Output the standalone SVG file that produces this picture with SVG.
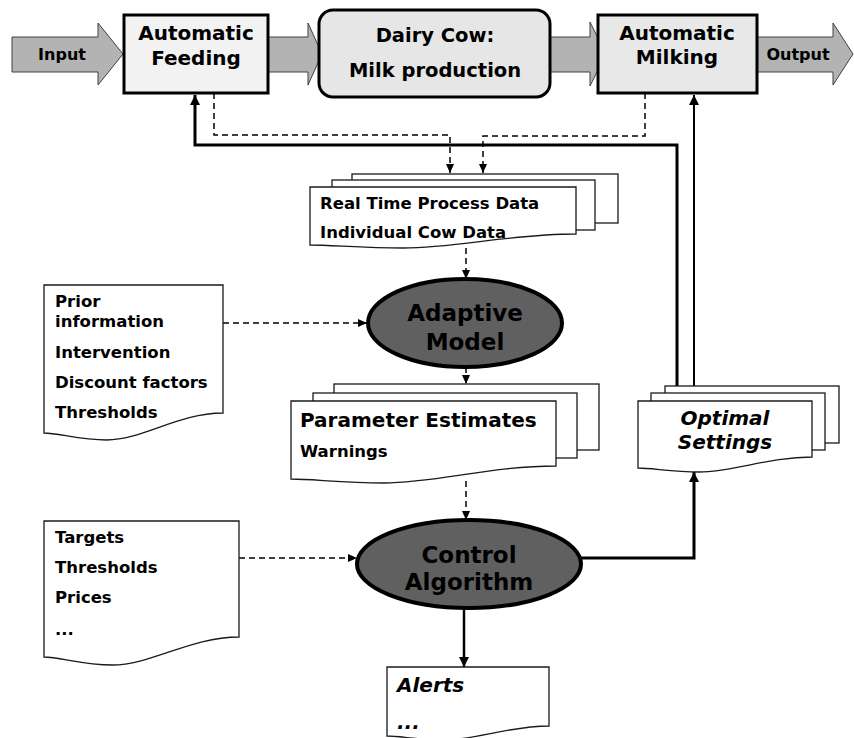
<svg xmlns="http://www.w3.org/2000/svg" width="854" height="738" viewBox="0 0 854 738">
<defs>
<style>
text{font-family:"DejaVu Sans","Verdana",sans-serif;font-weight:bold;fill:#000}
.big{font-size:20px}
.sm{font-size:16.5px}
.arw{font-size:16px}
.ell{font-size:23px}
.it{font-style:italic}
.mid{text-anchor:middle}
.fat{fill:#b3b3b3;stroke:#404040;stroke-width:1}
.box{stroke:#000;stroke-width:3}
.doc{fill:#fff;stroke:#1a1a1a;stroke-width:1.3}
.oval{fill:#606060;stroke:#000;stroke-width:4}
.dash{fill:none;stroke:#000;stroke-width:1.5;stroke-dasharray:6 4}
.solid{fill:none;stroke:#000}
</style>
<marker id="ah" markerUnits="userSpaceOnUse" markerWidth="9" markerHeight="8" refX="9" refY="4" orient="auto"><path d="M0,0 L9,4 L0,8 Z" fill="#000"/></marker>
<marker id="ahb" markerUnits="userSpaceOnUse" markerWidth="10" markerHeight="10" refX="10" refY="5" orient="auto"><path d="M0,0 L10,5 L0,10 Z" fill="#000"/></marker>
</defs>
<rect width="854" height="738" fill="#fff"/>

<g id="connectors">
<polygon class="fat" points="268,37 308,37 308,23 322,54 308,85 308,72 268,72"/>
<polygon class="fat" points="548,37 590,37 590,22 606,54 590,86 590,72 548,72"/>
<path class="dash" d="M214,93 V135 H450 V173" marker-end="url(#ah)"/>
<path class="dash" d="M645,93 V136 H483 V173" marker-end="url(#ah)"/>
<path class="solid" stroke-width="3" d="M677,386 V145 H195 V95" marker-end="url(#ahb)"/>
<path class="solid" stroke-width="2" d="M694,386 V95" marker-end="url(#ahb)"/>
<path class="dash" d="M466,248 V279" marker-end="url(#ah)"/>
<path class="dash" d="M223,323 H367" marker-end="url(#ah)"/>
<path class="dash" d="M466,367 V384" marker-end="url(#ah)"/>
<path class="dash" d="M466,481 V520" marker-end="url(#ah)"/>
<path class="dash" d="M239,558 H357" marker-end="url(#ah)"/>
<path class="solid" stroke-width="3" d="M581,558 H694 V472" marker-end="url(#ahb)"/>
<path class="solid" stroke-width="2.5" d="M464,608 V667" marker-end="url(#ahb)"/>
</g>

<g id="input">
<polygon class="fat" points="12,37 98,37 98,23 123,54 98,85 98,72 12,72"/>
<text class="arw mid" x="62" y="60">Input</text>
</g>

<g id="output">
<polygon class="fat" points="757,37 833,37 833,23 853,54 833,85 833,72 757,72"/>
<text class="arw mid" x="798" y="60">Output</text>
</g>

<g id="feeding">
<rect class="box" x="124" y="15" width="144" height="78" fill="#f2f2f2"/>
<text class="big mid" x="196" y="40">Automatic</text>
<text class="big mid" x="196" y="65">Feeding</text>
</g>

<g id="cow">
<rect class="box" x="319" y="10" width="231" height="87" rx="14" fill="#e6e6e6"/>
<text class="big mid" x="435" y="42" style="font-size:19.5px">Dairy Cow:</text>
<text class="big mid" x="435" y="77" style="font-size:19.5px">Milk production</text>
</g>

<g id="milking">
<rect class="box" x="598" y="15" width="159" height="78" fill="#e8e8e8"/>
<text class="big mid" x="677" y="40">Automatic</text>
<text class="big mid" x="677" y="64">Milking</text>
</g>

<g id="realtime">
<rect class="doc" x="352" y="174" width="266" height="49"/>
<rect class="doc" x="332" y="180" width="263" height="50"/>
<path class="doc" d="M310,187 H576 V234 C509.5,234 456.3,248 403.1,248 C363.2,248 331.3,245 310,245 Z"/>
<text class="sm" x="320" y="209">Real Time Process Data</text>
<text class="sm" x="320" y="238">Individual Cow Data</text>
</g>

<g id="prior">
<path class="doc" d="M44,285 H223 V413 C178.25,413 142.45,440 106.65,440 C79.8,440 58.3,433 44,433 Z"/>
<text class="sm" x="55" y="307">Prior</text>
<text class="sm" x="55" y="327">information</text>
<text class="sm" x="55" y="358">Intervention</text>
<text class="sm" x="55" y="388">Discount factors</text>
<text class="sm" x="55" y="418">Thresholds</text>
</g>

<g id="adaptive">
<ellipse class="oval" cx="465" cy="323" rx="97" ry="44"/>
<text class="ell mid" x="465" y="321">Adaptive</text>
<text class="ell mid" x="465" y="350">Model</text>
</g>

<g id="param">
<rect class="doc" x="334" y="384" width="265" height="66"/>
<rect class="doc" x="313" y="393" width="264" height="65"/>
<path class="doc" d="M291,401 H556 V466 C489.75,466 436.75,483 383.75,483 C344,483 312.2,479 291,479 Z"/>
<text class="big" x="300" y="427">Parameter Estimates</text>
<text class="sm" x="300" y="457">Warnings</text>
</g>

<g id="optimal">
<rect class="doc" x="665" y="386" width="174" height="57"/>
<rect class="doc" x="651" y="393" width="174" height="57"/>
<path class="doc" d="M638,401 H812 V457 C768.5,457 733.7,472 698.9,472 C672.8,472 651.9,468 638,468 Z"/>
<text class="big it mid" x="725" y="425">Optimal</text>
<text class="big it mid" x="725" y="449">Settings</text>
</g>

<g id="targets">
<path class="doc" d="M44,521 H239 V637 C190.25,637 151.25,665 112.25,665 C83,665 59.6,657 44,657 Z"/>
<text class="sm" x="55" y="543">Targets</text>
<text class="sm" x="55" y="573">Thresholds</text>
<text class="sm" x="55" y="603">Prices</text>
<text class="sm" x="55" y="635">...</text>
</g>

<g id="control">
<ellipse class="oval" cx="469" cy="564" rx="112" ry="44"/>
<text class="ell mid" x="469" y="563">Control</text>
<text class="ell mid" x="469" y="590">Algorithm</text>
</g>

<g id="alerts">
<path class="doc" d="M387,667 H549 V726 C508.5,726 476.1,740 443.7,740 C419.4,740 400,736 387,736 Z"/>
<text class="big it" x="397" y="692">Alerts</text>
<text class="big it" x="397" y="729">...</text>
</g>
</svg>
